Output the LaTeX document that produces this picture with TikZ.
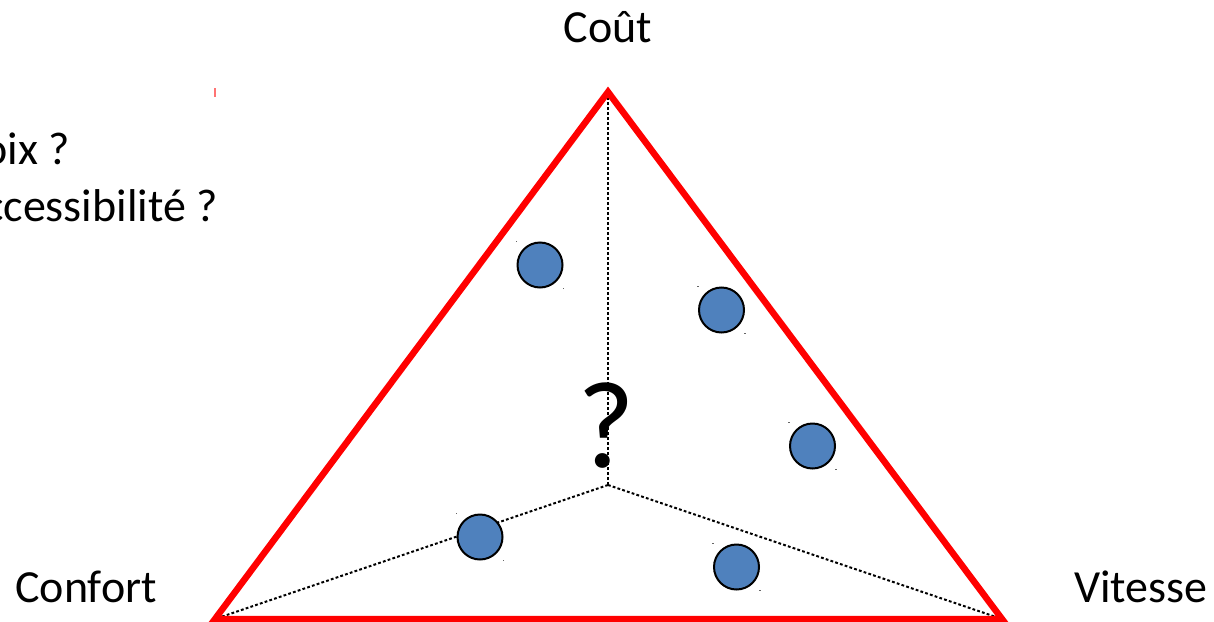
\documentclass[tikz,border=0pt]{standalone}
\usepackage{fontspec}
\setmainfont{Carlito}
\begin{document}
\begin{tikzpicture}[x=1pt,y=-1pt,
  lbl/.style={inner sep=0pt,font=\fontsize{46}{50}\selectfont},
  side/.style={inner sep=0pt,font=\fontsize{46}{50}\selectfont},
  ball/.style={circle,draw=black,line width=2pt,fill=ballblue,minimum size=45pt,inner sep=0pt},
  dotline/.style={draw=black,line width=2pt,dash pattern=on 2.8pt off 2.2pt},
  redline/.style={draw=red,line width=6.5pt,line join=miter},
  handle/.style={fill=black!60,inner sep=0pt,minimum size=1.3pt}]
\definecolor{ballblue}{HTML}{4F81BD}
\useasboundingbox (0,0) rectangle (1214,621);
\clip (0,0) rectangle (1214,621);
\fill[white] (0,0) rectangle (1214,621);
% vertices
\coordinate (top) at (608,92);
\coordinate (bl) at (215,619);
\coordinate (br) at (1002,619);
\coordinate (mid) at (608,485);
% dotted spokes
\draw[dotline] (mid) -- (top);
\draw[dotline] (mid) -- (bl);
\draw[dotline] (mid) -- (br);
% triangle
\draw[redline] (top) -- (br) -- (bl) -- cycle;
% small red mark
\coordinate (m1) at (215,88);
\coordinate (m2) at (215,97);
\draw[draw=red!55,line width=1.8pt] (m1) -- (m2);
% labels
\node[lbl,anchor=base] (cout) at (608,42) {Coût};
\node[lbl,anchor=base] (confort) at (86,602) {Confort};
\node[lbl,anchor=base] (vitesse) at (1141,602) {Vitesse};
\node[inner sep=0pt,anchor=base,font=\fontsize{124}{130}\selectfont] (q) at (606,467) {?};
\node[side,anchor=base east] (choix) at (70,164) {Choix ?};
\node[side,anchor=base east] (acc) at (218,221) {Accessibilité ?};
% balls
\foreach \n/\x/\y in {b1/540/265, b2/721.5/310, b3/812.5/446, b4/480/537, b5/736.5/567}{
  \node[ball] (\n) at (\x,\y) {};
  \node[handle] (\n tl) at ([shift={(-23.5,-23.5)}]\n.center) {};
  \node[handle] (\n br) at ([shift={(23.5,23.5)}]\n.center) {};
}
\end{tikzpicture}
\end{document}
